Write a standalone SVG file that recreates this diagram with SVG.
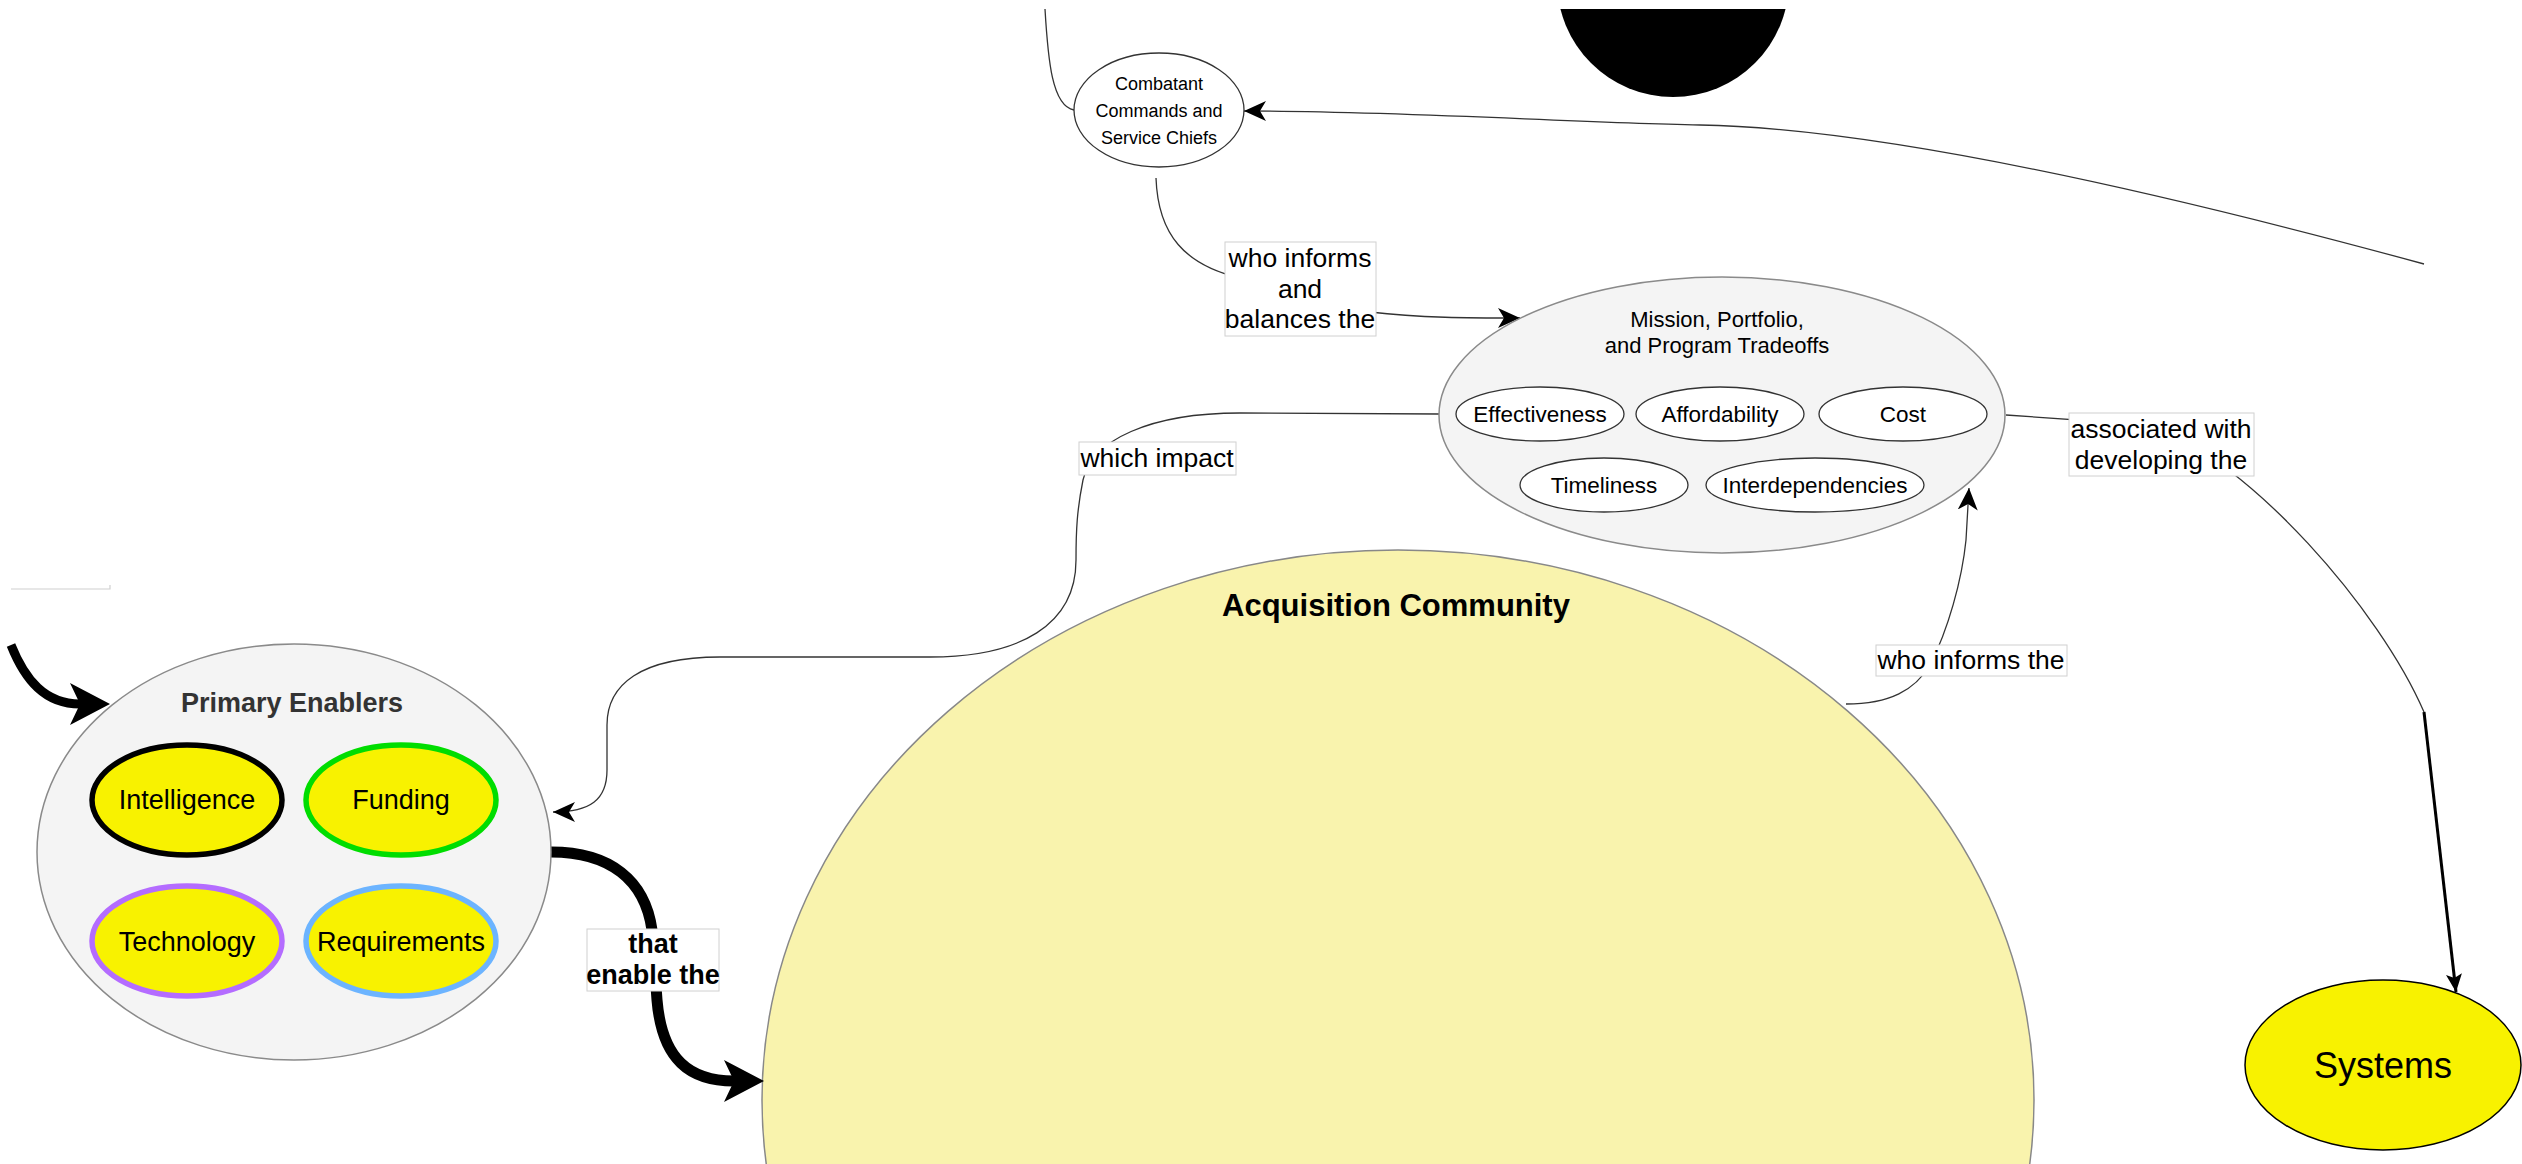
<svg xmlns="http://www.w3.org/2000/svg" width="2522" height="1164" viewBox="0 0 2522 1164">
<defs>
<style>
text{font-family:"Liberation Sans",Arial,sans-serif;text-anchor:middle;fill:#000}
.conn{fill:none;stroke:#333;stroke-width:1.3}
.lbl{fill:#fff;stroke:#d0d0d0;stroke-width:1}
.lt{font-size:26.5px}
.grp{fill:#f4f4f4;stroke:#8a8a8a;stroke-width:1.5}
.sub{fill:#fff;stroke:#333;stroke-width:1.3}
.yel{fill:#f8f200;stroke-width:5.5}
.it{font-size:27px}
.st{font-size:22.5px}
</style>
<marker id="arr" markerUnits="userSpaceOnUse" markerWidth="24" markerHeight="22" refX="22" refY="11" orient="auto" viewBox="0 0 24 22"><path d="M0,1 L22,11 L0,21 L6,11 Z" fill="#000"/></marker>
<marker id="arrS" markerUnits="userSpaceOnUse" markerWidth="20" markerHeight="18" refX="18" refY="9" orient="auto" viewBox="0 0 20 18"><path d="M0,1 L18,9 L0,17 L4,9 Z" fill="#000"/></marker>
<marker id="thick" markerUnits="userSpaceOnUse" markerWidth="42" markerHeight="44" refX="10" refY="22" orient="auto" viewBox="0 0 42 44"><path d="M0,1 L40,22 L0,43 L10,22 Z" fill="#000"/></marker>
<clipPath id="topclip"><rect x="0" y="9" width="2522" height="1155"/></clipPath>
</defs>

<g id="black-circle" clip-path="url(#topclip)">
<circle cx="1673" cy="-19" r="116" fill="#000"/>
</g>

<g id="stub-line">
<path d="M11,589 L110,589 L110,585" fill="none" stroke="#d0d0d0" stroke-width="1.2"/>
</g>

<g id="acquisition-community">
<ellipse cx="1398" cy="1100" rx="636" ry="550" fill="#f9f3ad" stroke="#888" stroke-width="1.5"/>
<text x="1396" y="616" font-size="31" font-weight="bold">Acquisition Community</text>
</g>

<g id="connectors">
<path class="conn" d="M1045,9 C1048,60 1052,106 1074,110"/>
<path class="conn" d="M2424,264 C2160,192 1880,128 1700,125 C1560,122 1400,111 1244,111" marker-end="url(#arr)"/>
<path class="conn" d="M1156,178 C1158,235 1185,265 1240,278 L1370,312 C1420,318 1470,318 1520,318" marker-end="url(#arr)"/>
<path class="conn" d="M1439,414 L1240,413 C1150,413 1092,440 1083,480 C1077,510 1076,530 1076,560 C1076,625 1020,657 930,657 L720,657 C640,657 607,685 607,725 L607,770 C607,800 590,812 553,812" marker-end="url(#arr)"/>
<path class="conn" d="M1846,704 C1890,704 1915,690 1930,665 C1948,630 1962,580 1966,540 L1969,488" marker-end="url(#arr)"/>
<path class="conn" d="M2006,415 L2150,425 C2250,460 2380,610 2424,712"/>
<path d="M2424,712 L2456,992" fill="none" stroke="#000" stroke-width="3" marker-end="url(#arrS)"/>
<path d="M551,852 C610,852 645,880 652,930 L657,1000 C662,1060 690,1081 734,1081" fill="none" stroke="#000" stroke-width="11" marker-end="url(#thick)"/>
<path d="M11,645 C25,680 45,704 80,704" fill="none" stroke="#000" stroke-width="9" marker-end="url(#thick)"/>
<rect class="lbl" x="1225" y="242" width="151" height="94"/>
<text class="lt" x="1300" y="267">who informs</text>
<text class="lt" x="1300" y="298">and</text>
<text class="lt" x="1300" y="328">balances the</text>
<rect class="lbl" x="1079" y="442" width="157" height="33"/>
<text class="lt" x="1157" y="467">which impact</text>
<rect class="lbl" x="587" y="929" width="132" height="62"/>
<text x="653" y="953" font-size="27" font-weight="bold">that</text>
<text x="653" y="984" font-size="27" font-weight="bold">enable the</text>
<rect class="lbl" x="1876" y="645" width="191" height="31"/>
<text class="lt" x="1971" y="669">who informs the</text>
<rect class="lbl" x="2069" y="413" width="185" height="63"/>
<text class="lt" x="2161" y="438">associated with</text>
<text class="lt" x="2161" y="469">developing the</text>
</g>

<g id="combatant-commands">
<ellipse cx="1159" cy="110" rx="85" ry="57" fill="#fff" stroke="#333" stroke-width="1.3"/>
<text x="1159" y="90" font-size="18">Combatant</text>
<text x="1159" y="117" font-size="18">Commands and</text>
<text x="1159" y="144" font-size="18">Service Chiefs</text>
</g>

<g id="mission-tradeoffs">
<ellipse class="grp" cx="1722" cy="415" rx="283" ry="138"/>
<text x="1717" y="327" font-size="22">Mission, Portfolio,</text>
<text x="1717" y="353" font-size="22">and Program Tradeoffs</text>
<g id="effectiveness"><ellipse class="sub" cx="1540" cy="414" rx="84" ry="27"/><text class="st" x="1540" y="422">Effectiveness</text></g>
<g id="affordability"><ellipse class="sub" cx="1720" cy="414" rx="84" ry="27"/><text class="st" x="1720" y="422">Affordability</text></g>
<g id="cost"><ellipse class="sub" cx="1903" cy="414" rx="84" ry="27"/><text class="st" x="1903" y="422">Cost</text></g>
<g id="timeliness"><ellipse class="sub" cx="1604" cy="485" rx="84" ry="27"/><text class="st" x="1604" y="493">Timeliness</text></g>
<g id="interdependencies"><ellipse class="sub" cx="1815" cy="485" rx="109" ry="27"/><text class="st" x="1815" y="493">Interdependencies</text></g>
</g>

<g id="primary-enablers">
<ellipse class="grp" cx="294" cy="852" rx="257" ry="208"/>
<text x="292" y="712" font-size="27" font-weight="bold" style="fill:#333">Primary Enablers</text>
<g id="intelligence"><ellipse class="yel" cx="187" cy="800" rx="95" ry="55" stroke="#000"/><text class="it" x="187" y="809">Intelligence</text></g>
<g id="funding"><ellipse class="yel" cx="401" cy="800" rx="95" ry="55" stroke="#00dd00"/><text class="it" x="401" y="809">Funding</text></g>
<g id="technology"><ellipse class="yel" cx="187" cy="941" rx="95" ry="55" stroke="#b46cff"/><text class="it" x="187" y="951">Technology</text></g>
<g id="requirements"><ellipse class="yel" cx="401" cy="941" rx="95" ry="55" stroke="#6cb4ff"/><text class="it" x="401" y="951">Requirements</text></g>
</g>

<g id="systems">
<ellipse cx="2383" cy="1065" rx="138" ry="85" fill="#f8f200" stroke="#000" stroke-width="1.5"/>
<text x="2383" y="1078" font-size="36">Systems</text>
</g>
</svg>
